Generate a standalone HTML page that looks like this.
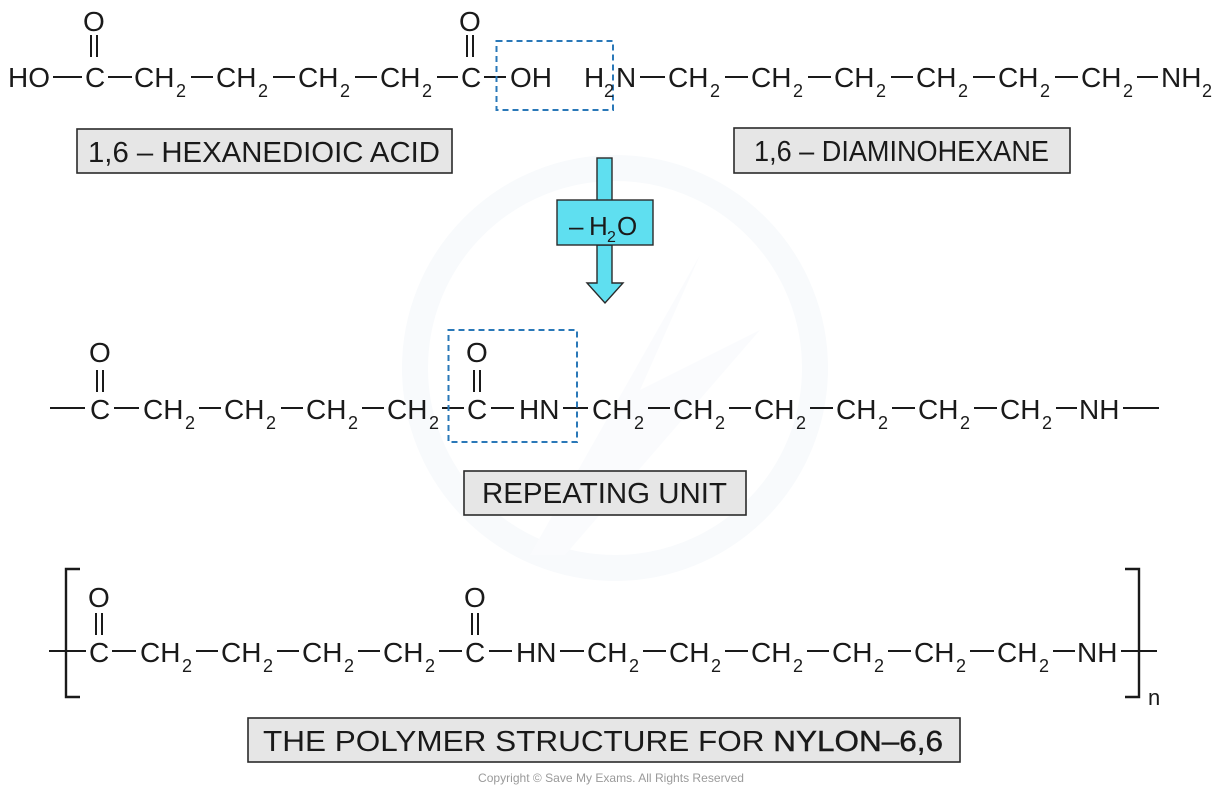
<!DOCTYPE html>
<html>
<head>
<meta charset="utf-8">
<style>
  html,body{margin:0;padding:0;background:#fff;}
  svg{display:block;}
  .t{font-family:"Liberation Sans",Arial,sans-serif;font-size:28px;fill:#1a1a1a;}
  .s{font-family:"Liberation Sans",Arial,sans-serif;font-size:18px;fill:#1a1a1a;}
  .lb{font-family:"Liberation Sans",Arial,sans-serif;font-size:29px;fill:#1a1a1a;}
  line.b{stroke:#1a1a1a;stroke-width:2;}
</style>
</head>
<body>
<svg width="1226" height="792" viewBox="0 0 1226 792" xmlns="http://www.w3.org/2000/svg">
  <rect width="1226" height="792" fill="#fff"/>
  <!-- very faint watermark -->
  <circle cx="615" cy="368" r="200" fill="none" stroke="#f8fafc" stroke-width="26"/>
  <polygon points="530,555 700,255 640,390 760,330 565,555" fill="#fafbfd"/>

  <!-- ================= ROW 1 ================= -->
  <text class="t" x="8" y="87">HO</text>
  <line class="b" x1="53" y1="77" x2="82" y2="77"/>
  <text class="t" x="85" y="87">C</text>
  <text class="t" x="83" y="31">O</text>
  <line class="b" x1="91" y1="35" x2="91" y2="57"/>
  <line class="b" x1="97" y1="35" x2="97" y2="57"/>
  <line class="b" x1="108" y1="77" x2="132" y2="77"/>
  <text class="t" x="134" y="87">CH</text><text class="s" x="176" y="97">2</text>
  <line class="b" x1="191" y1="77" x2="213" y2="77"/>
  <text class="t" x="216" y="87">CH</text><text class="s" x="258" y="97">2</text>
  <line class="b" x1="273" y1="77" x2="295" y2="77"/>
  <text class="t" x="298" y="87">CH</text><text class="s" x="340" y="97">2</text>
  <line class="b" x1="355" y1="77" x2="377" y2="77"/>
  <text class="t" x="380" y="87">CH</text><text class="s" x="422" y="97">2</text>
  <line class="b" x1="437" y1="77" x2="458" y2="77"/>
  <text class="t" x="461" y="87">C</text>
  <text class="t" x="459" y="31">O</text>
  <line class="b" x1="467" y1="35" x2="467" y2="57"/>
  <line class="b" x1="473" y1="35" x2="473" y2="57"/>
  <line class="b" x1="484" y1="77" x2="506" y2="77"/>
  <text class="t" x="510" y="87">OH</text>
  <rect x="496.5" y="41" width="116.5" height="69" fill="none" stroke="#2a78b8" stroke-width="2" stroke-dasharray="6,4"/>
  <text class="t" x="584" y="87">H</text><text class="s" x="604" y="97">2</text><text class="t" x="616" y="87">N</text>
  <line class="b" x1="640" y1="77" x2="665" y2="77"/>
  <text class="t" x="668" y="87">CH</text><text class="s" x="710" y="97">2</text>
  <line class="b" x1="725" y1="77" x2="748" y2="77"/>
  <text class="t" x="751" y="87">CH</text><text class="s" x="793" y="97">2</text>
  <line class="b" x1="808" y1="77" x2="831" y2="77"/>
  <text class="t" x="834" y="87">CH</text><text class="s" x="876" y="97">2</text>
  <line class="b" x1="891" y1="77" x2="913" y2="77"/>
  <text class="t" x="916" y="87">CH</text><text class="s" x="958" y="97">2</text>
  <line class="b" x1="973" y1="77" x2="995" y2="77"/>
  <text class="t" x="998" y="87">CH</text><text class="s" x="1040" y="97">2</text>
  <line class="b" x1="1055" y1="77" x2="1078" y2="77"/>
  <text class="t" x="1081" y="87">CH</text><text class="s" x="1123" y="97">2</text>
  <line class="b" x1="1137" y1="77" x2="1158" y2="77"/>
  <text class="t" x="1161" y="87">NH</text><text class="s" x="1202" y="97">2</text>

  <!-- Labels row 1 -->
  <rect x="77" y="129" width="375" height="44" fill="#e6e6e6" stroke="#2a2a2a" stroke-width="1.6"/>
  <text class="lb" x="88" y="162" textLength="352" lengthAdjust="spacingAndGlyphs">1,6 – HEXANEDIOIC  ACID</text>
  <rect x="734" y="128" width="336" height="45" fill="#e6e6e6" stroke="#2a2a2a" stroke-width="1.6"/>
  <text class="lb" x="754" y="161" textLength="295" lengthAdjust="spacingAndGlyphs">1,6 – DIAMINOHEXANE</text>

  <!-- Arrow -->
  <rect x="597" y="158" width="15" height="43" fill="#5fdff0" stroke="#2a2a2a" stroke-width="1.4"/>
  <polygon points="597,245 612,245 612,283 623,283 605,303 587,283 597,283" fill="#5fdff0" stroke="#2a2a2a" stroke-width="1.4" stroke-linejoin="miter"/>
  <rect x="557" y="200" width="96" height="45" fill="#5fdff0" stroke="#2a2a2a" stroke-width="1.4"/>
  <text x="569" y="235" style="font-family:'Liberation Sans',Arial,sans-serif;font-size:26px;fill:#1a1a1a;">–</text>
  <text x="589" y="235" style="font-family:'Liberation Sans',Arial,sans-serif;font-size:26px;fill:#1a1a1a;">H</text>
  <text x="607" y="242" style="font-family:'Liberation Sans',Arial,sans-serif;font-size:16px;fill:#1a1a1a;">2</text>
  <text x="617" y="235" style="font-family:'Liberation Sans',Arial,sans-serif;font-size:26px;fill:#1a1a1a;">O</text>

  <!-- ================= ROW 2 ================= -->
  <line class="b" x1="50" y1="408" x2="85" y2="408"/>
  <text class="t" x="90" y="419">C</text>
  <text class="t" x="89" y="362">O</text>
  <line class="b" x1="97" y1="370" x2="97" y2="392"/>
  <line class="b" x1="103" y1="370" x2="103" y2="392"/>
  <line class="b" x1="114" y1="408" x2="139" y2="408"/>
  <text class="t" x="143" y="419">CH</text><text class="s" x="185" y="429">2</text>
  <line class="b" x1="199" y1="408" x2="221" y2="408"/>
  <text class="t" x="224" y="419">CH</text><text class="s" x="266" y="429">2</text>
  <line class="b" x1="281" y1="408" x2="303" y2="408"/>
  <text class="t" x="306" y="419">CH</text><text class="s" x="348" y="429">2</text>
  <line class="b" x1="362" y1="408" x2="384" y2="408"/>
  <text class="t" x="387" y="419">CH</text><text class="s" x="429" y="429">2</text>
  <line class="b" x1="442" y1="408" x2="464" y2="408"/>
  <text class="t" x="467" y="419">C</text>
  <text class="t" x="466" y="362">O</text>
  <line class="b" x1="474" y1="370" x2="474" y2="392"/>
  <line class="b" x1="480" y1="370" x2="480" y2="392"/>
  <line class="b" x1="491" y1="408" x2="514" y2="408"/>
  <text class="t" x="519" y="419">HN</text>
  <line class="b" x1="563" y1="408" x2="588" y2="408"/>
  <rect x="448.5" y="330" width="128.5" height="112" fill="none" stroke="#2a78b8" stroke-width="2" stroke-dasharray="6,4"/>
  <text class="t" x="592" y="419">CH</text><text class="s" x="634" y="429">2</text>
  <line class="b" x1="648" y1="408" x2="670" y2="408"/>
  <text class="t" x="673" y="419">CH</text><text class="s" x="715" y="429">2</text>
  <line class="b" x1="729" y1="408" x2="751" y2="408"/>
  <text class="t" x="754" y="419">CH</text><text class="s" x="796" y="429">2</text>
  <line class="b" x1="810" y1="408" x2="833" y2="408"/>
  <text class="t" x="836" y="419">CH</text><text class="s" x="878" y="429">2</text>
  <line class="b" x1="892" y1="408" x2="915" y2="408"/>
  <text class="t" x="918" y="419">CH</text><text class="s" x="960" y="429">2</text>
  <line class="b" x1="974" y1="408" x2="997" y2="408"/>
  <text class="t" x="1000" y="419">CH</text><text class="s" x="1042" y="429">2</text>
  <line class="b" x1="1056" y1="408" x2="1077" y2="408"/>
  <text class="t" x="1079" y="419">NH</text>
  <line class="b" x1="1123" y1="408" x2="1159" y2="408"/>

  <rect x="464" y="471" width="282" height="44" fill="#e6e6e6" stroke="#2a2a2a" stroke-width="1.6"/>
  <text class="lb" x="482" y="503" textLength="245" lengthAdjust="spacingAndGlyphs">REPEATING  UNIT</text>

  <!-- ================= ROW 3 ================= -->
  <polyline points="80,569 66,569 66,697 80,697" fill="none" stroke="#1a1a1a" stroke-width="2.4"/>
  <line class="b" x1="49" y1="651" x2="86" y2="651"/>
  <text class="t" x="89" y="662">C</text>
  <text class="t" x="88" y="607">O</text>
  <line class="b" x1="96" y1="613" x2="96" y2="635"/>
  <line class="b" x1="102" y1="613" x2="102" y2="635"/>
  <line class="b" x1="112" y1="651" x2="136" y2="651"/>
  <text class="t" x="140" y="662">CH</text><text class="s" x="182" y="672">2</text>
  <line class="b" x1="196" y1="651" x2="218" y2="651"/>
  <text class="t" x="221" y="662">CH</text><text class="s" x="263" y="672">2</text>
  <line class="b" x1="277" y1="651" x2="299" y2="651"/>
  <text class="t" x="302" y="662">CH</text><text class="s" x="344" y="672">2</text>
  <line class="b" x1="358" y1="651" x2="380" y2="651"/>
  <text class="t" x="383" y="662">CH</text><text class="s" x="425" y="672">2</text>
  <line class="b" x1="439" y1="651" x2="462" y2="651"/>
  <text class="t" x="465" y="662">C</text>
  <text class="t" x="464" y="607">O</text>
  <line class="b" x1="472" y1="613" x2="472" y2="635"/>
  <line class="b" x1="478" y1="613" x2="478" y2="635"/>
  <line class="b" x1="489" y1="651" x2="512" y2="651"/>
  <text class="t" x="516" y="662">HN</text>
  <line class="b" x1="560" y1="651" x2="584" y2="651"/>
  <text class="t" x="587" y="662">CH</text><text class="s" x="629" y="672">2</text>
  <line class="b" x1="643" y1="651" x2="666" y2="651"/>
  <text class="t" x="669" y="662">CH</text><text class="s" x="711" y="672">2</text>
  <line class="b" x1="725" y1="651" x2="748" y2="651"/>
  <text class="t" x="751" y="662">CH</text><text class="s" x="793" y="672">2</text>
  <line class="b" x1="807" y1="651" x2="829" y2="651"/>
  <text class="t" x="832" y="662">CH</text><text class="s" x="874" y="672">2</text>
  <line class="b" x1="888" y1="651" x2="911" y2="651"/>
  <text class="t" x="914" y="662">CH</text><text class="s" x="956" y="672">2</text>
  <line class="b" x1="970" y1="651" x2="994" y2="651"/>
  <text class="t" x="997" y="662">CH</text><text class="s" x="1039" y="672">2</text>
  <line class="b" x1="1053" y1="651" x2="1075" y2="651"/>
  <text class="t" x="1077" y="662">NH</text>
  <line class="b" x1="1121" y1="651" x2="1157" y2="651"/>
  <polyline points="1125,569 1139,569 1139,697 1125,697" fill="none" stroke="#1a1a1a" stroke-width="2.4"/>
  <text x="1148" y="705" style="font-family:'Liberation Sans',Arial,sans-serif;font-size:22px;fill:#1a1a1a;">n</text>

  <rect x="248" y="718" width="712" height="44" fill="#e6e6e6" stroke="#2a2a2a" stroke-width="1.6"/>
  <text class="lb" x="263" y="751" textLength="680" lengthAdjust="spacingAndGlyphs">THE  POLYMER  STRUCTURE  FOR  <tspan style="stroke:#1a1a1a;stroke-width:0.4">NYLON–6,6</tspan></text>

  <text x="478" y="782" textLength="266" lengthAdjust="spacingAndGlyphs" style="font-family:'Liberation Sans',Arial,sans-serif;font-size:12px;fill:#9a9a9a;">Copyright © Save My Exams. All Rights Reserved</text>
</svg>
</body>
</html>
